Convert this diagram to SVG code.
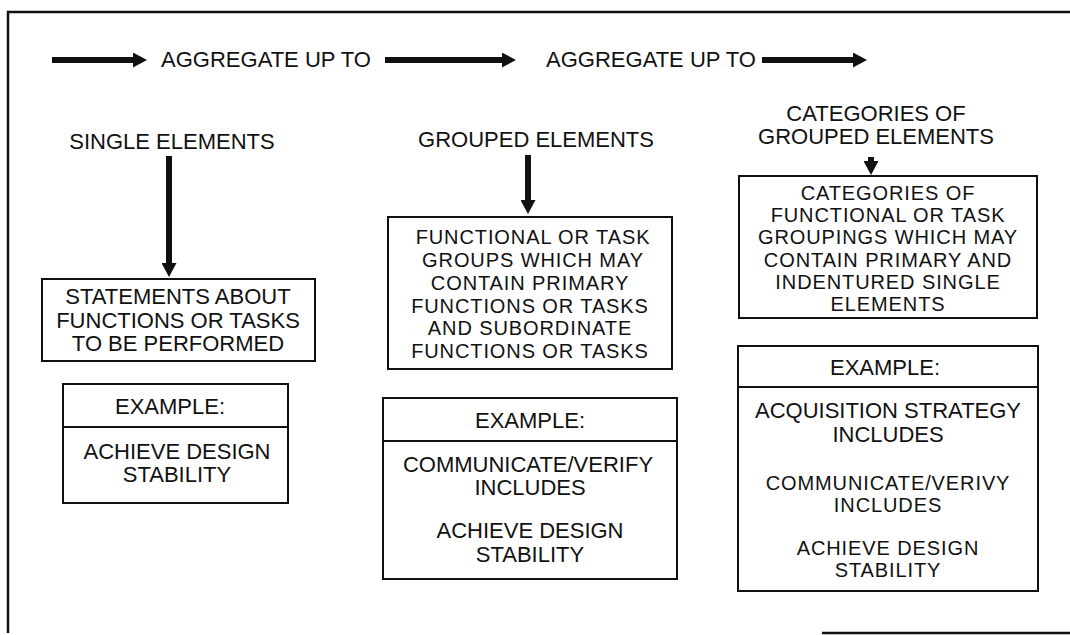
<svg xmlns="http://www.w3.org/2000/svg" width="1070" height="635" viewBox="0 0 1070 635">
  <style>
    text { font-family: "Liberation Sans", Arial, sans-serif; font-size: 22px; fill: #111; text-anchor: middle; }
    .tight { font-size: 20px; letter-spacing: 0.9px; }
    .box { fill: #fff; stroke: #111; stroke-width: 2; }
    .rule { stroke: #111; stroke-width: 2; }
    .frame { stroke: #111; stroke-width: 2.5; fill: none; }
    .flow { stroke: #111; stroke-width: 6; fill: none; }
  </style>
  <defs>
    <marker id="head" markerUnits="userSpaceOnUse" markerWidth="14" markerHeight="15" viewBox="0 0 14 15" refX="1" refY="7.5" orient="auto">
      <path d="M0,0 L14,7.5 L0,15 z" fill="#111"/>
    </marker>
  </defs>

  <rect width="1070" height="635" fill="#fff"/>

  <!-- outer frame -->
  <g id="frame">
    <path class="frame" d="M8,633 V12 H1070"/>
    <path class="frame" d="M822,633 H1070"/>
  </g>

  <!-- connectors -->
  <g id="connectors">
    <line class="flow" x1="52" y1="60" x2="134" y2="60" marker-end="url(#head)"/>
    <line class="flow" x1="385" y1="60" x2="503" y2="60" marker-end="url(#head)"/>
    <line class="flow" x1="762" y1="60" x2="854" y2="60" marker-end="url(#head)"/>
    <line class="flow" x1="169" y1="156" x2="169" y2="264" marker-end="url(#head)"/>
    <line class="flow" x1="528" y1="155" x2="528" y2="201" marker-end="url(#head)"/>
    <line class="flow" x1="871" y1="157" x2="871" y2="162" marker-end="url(#head)"/>
  </g>

  <!-- flow labels -->
  <g id="flow-labels">
    <text x="266" y="67">AGGREGATE UP TO</text>
    <text x="651" y="67">AGGREGATE UP TO</text>
  </g>

  <!-- column 1: single elements -->
  <g id="single-elements">
    <text x="172" y="149">SINGLE ELEMENTS</text>
  </g>
  <g id="statements">
    <rect class="box" x="42" y="279" width="273" height="82"/>
    <text x="178" y="304">STATEMENTS ABOUT</text>
    <text x="178" y="328">FUNCTIONS OR TASKS</text>
    <text x="178" y="351">TO BE PERFORMED</text>
  </g>
  <g id="example-1">
    <rect class="box" x="63" y="384" width="225" height="119"/>
    <line class="rule" x1="63" y1="427" x2="288" y2="427"/>
    <text x="170" y="414">EXAMPLE:</text>
    <text x="177" y="459">ACHIEVE DESIGN</text>
    <text x="177" y="482">STABILITY</text>
  </g>

  <!-- column 2: grouped elements -->
  <g id="grouped-elements">
    <text x="536" y="147">GROUPED ELEMENTS</text>
  </g>
  <g id="task-groups">
    <rect class="box" x="388" y="217" width="284" height="152"/>
    <text class="tight" x="533" y="244">FUNCTIONAL OR TASK</text>
    <text class="tight" x="533" y="267">GROUPS WHICH MAY</text>
    <text class="tight" x="530" y="290">CONTAIN PRIMARY</text>
    <text class="tight" x="530" y="313">FUNCTIONS OR TASKS</text>
    <text class="tight" x="530" y="335">AND SUBORDINATE</text>
    <text class="tight" x="530" y="358">FUNCTIONS OR TASKS</text>
  </g>
  <g id="example-2">
    <rect class="box" x="383" y="398" width="294" height="181"/>
    <line class="rule" x1="383" y1="441" x2="677" y2="441"/>
    <text x="530" y="428">EXAMPLE:</text>
    <text x="528" y="472">COMMUNICATE/VERIFY</text>
    <text x="530" y="495">INCLUDES</text>
    <text x="530" y="538">ACHIEVE DESIGN</text>
    <text x="530" y="562">STABILITY</text>
  </g>

  <!-- column 3: categories of grouped elements -->
  <g id="categories">
    <text x="876" y="121">CATEGORIES OF</text>
    <text x="876" y="144">GROUPED ELEMENTS</text>
  </g>
  <g id="category-groupings">
    <rect class="box" x="739" y="176" width="298" height="142"/>
    <text class="tight" x="888" y="200">CATEGORIES OF</text>
    <text class="tight" x="888" y="222">FUNCTIONAL OR TASK</text>
    <text class="tight" x="888" y="244">GROUPINGS WHICH MAY</text>
    <text class="tight" x="888" y="267">CONTAIN PRIMARY AND</text>
    <text class="tight" x="888" y="289">INDENTURED SINGLE</text>
    <text class="tight" x="888" y="311">ELEMENTS</text>
  </g>
  <g id="example-3">
    <rect class="box" x="738" y="346" width="300" height="245"/>
    <line class="rule" x1="738" y1="387" x2="1038" y2="387"/>
    <text x="885" y="375">EXAMPLE:</text>
    <text x="888" y="418">ACQUISITION STRATEGY</text>
    <text x="888" y="442">INCLUDES</text>
    <text class="tight" x="888" y="490">COMMUNICATE/VERIVY</text>
    <text class="tight" x="888" y="512">INCLUDES</text>
    <text class="tight" x="888" y="555">ACHIEVE DESIGN</text>
    <text class="tight" x="888" y="577">STABILITY</text>
  </g>
</svg>
